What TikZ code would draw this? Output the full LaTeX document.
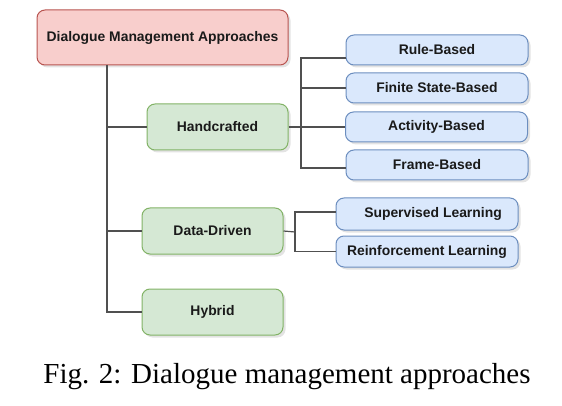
\documentclass[tikz,border=0pt]{standalone}
\usepackage{fontspec}
\setmainfont{Liberation Serif}
\setsansfont{Liberation Sans}
\usetikzlibrary{shadows,calc}
\definecolor{redfill}{HTML}{F8CECC}
\definecolor{redline}{HTML}{B85450}
\definecolor{greenfill}{HTML}{D5E8D4}
\definecolor{greenline}{HTML}{82B366}
\definecolor{bluefill}{HTML}{DAE8FC}
\definecolor{blueline}{HTML}{6C8EBF}
\definecolor{connc}{HTML}{505050}
\definecolor{txt}{HTML}{1A1A1A}
\begin{document}
\begin{tikzpicture}[x=1pt,y=1pt,
  box/.style={rounded corners=8pt, line width=1pt, inner sep=0pt, align=center,
    text=txt, font=\sffamily\bfseries\fontsize{13.9}{16}\selectfont,
    drop shadow={shadow xshift=2.5pt, shadow yshift=-2.5pt, opacity=0.22, fill=gray}},
  rootbox/.style={box, fill=redfill, draw=redline, minimum width=251pt, minimum height=55pt},
  greenbox/.style={box, fill=greenfill, draw=greenline, minimum width=141pt, minimum height=46pt},
  bluebox/.style={box, fill=bluefill, draw=blueline, minimum width=182pt, minimum height=30pt},
  conn/.style={draw=connc, line width=1.2pt}]
\useasboundingbox (0,0) rectangle (562,-406);

\node[rootbox] (root) at (162.5,-37.5) {Dialogue Management Approaches};
\node[greenbox] (hand) at (217.5,-127) {Handcrafted};
\node[greenbox] (data) at (212.5,-231) {Data-Driven};
\node[greenbox] (hybrid) at (212.5,-312) {Hybrid};

\node[bluebox] (rule) at (437,-50) {Rule-Based};
\node[bluebox] (finite) at (437,-88) {Finite State-Based};
\node[bluebox] (activity) at (436.5,-127) {Activity-Based};
\node[bluebox] (frame) at (437,-165) {Frame-Based};

\node[bluebox, minimum height=32pt] (sup) at (427,-214) {\hspace{12pt}Supervised Learning};
\node[bluebox, minimum height=31pt] (reinf) at (427,-251.5) {Reinforcement Learning};

% main trunk
\coordinate (trunk) at (107,-65);
\draw[conn] (trunk) |- (hybrid.west);
\draw[conn] (trunk |- hand.west) -- (hand.west);
\draw[conn] (trunk |- data.west) -- (data.west);

% handcrafted branch
\coordinate (hj) at (301,-127);
\coordinate (r1) at ($(rule.west)+(0,-8)$);
\coordinate (r4) at ($(frame.west)+(0,-3)$);
\draw[conn] (hand.east) -- (hj);
\draw[conn] (r1) -- (r1 -| hj) -- (r4 -| hj) -- (r4);
\draw[conn] (finite.west -| hj) -- (finite.west);
\draw[conn] (activity.west -| hj) -- (activity.west);

% data-driven branch
\coordinate (dj) at (295,-232);
\coordinate (s1) at ($(sup.west)+(0,2)$);
\draw[conn] (data.east) -- (dj);
\draw[conn] (s1) -- (s1 -| dj) |- (reinf.west);

\node[anchor=base, font=\fontsize{29}{34}\selectfont, text=black] (cap) at (287,-383) {Fig. 2: Dialogue management approaches};
\end{tikzpicture}
\end{document}
